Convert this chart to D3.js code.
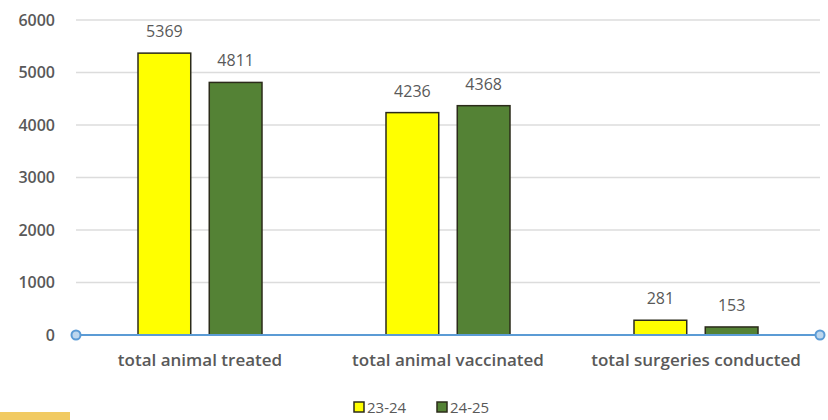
<!DOCTYPE html>
<html>
<head>
<meta charset="utf-8">
<script src="https://cdn.jsdelivr.net/npm/d3@7"></script>
<style>
  html, body { margin: 0; padding: 0; background: #fff; }
  svg { display: block; font-family: "Open Sans", "Noto Sans", sans-serif; }
</style>
</head>
<body>
<svg id="chart" width="828" height="420"></svg>
<script>
// Categories, series and axis ticks
const categories = ["total animal treated", "total animal vaccinated", "total surgeries conducted"];
const seriesNames = ["23-24", "24-25"];
const values2324 = [5369, 4236, 281];
const values2425 = [4811, 4368, 153];
const yTicks = [0, 1000, 2000, 3000, 4000, 5000, 6000];
const seriesColors = ["#ffff00", "#548235"];

const svg = d3.select("#chart");
const plotLeft = 76, plotRight = 820, plotTop = 20, plotBottom = 335;

const x = d3.scaleBand().domain(categories).range([plotLeft, plotRight]).paddingInner(0).paddingOuter(0);
const xs = d3.scaleBand().domain(seriesNames).range([-62, 62]).paddingInner(0.26);
const y = d3.scaleLinear().domain([0, 6000]).range([plotBottom, plotTop]);

// gridlines
svg.append("g")
  .selectAll("line")
  .data(yTicks.filter(d => d > 0))
  .join("line")
  .attr("x1", plotLeft).attr("x2", plotRight)
  .attr("y1", d => y(d)).attr("y2", d => y(d))
  .attr("stroke", "#dcdcdc").attr("stroke-width", 1.5);

// y axis labels
const yAxis = d3.axisLeft(y).tickValues(yTicks).tickFormat(d3.format("d")).tickSize(0).tickPadding(0);
svg.append("g")
  .attr("transform", "translate(55,0)")
  .call(yAxis)
  .call(g => g.select(".domain").remove())
  .call(g => g.selectAll("text")
    .attr("fill", "#595959")
    .attr("font-size", 16)
    .attr("font-weight", 600)
    .attr("font-family", "'Open Sans', sans-serif"));

// bars
const rows = categories.map((c, i) => ({ cat: c, vals: [values2324[i], values2425[i]] }));
const groups = svg.append("g").selectAll("g")
  .data(rows)
  .join("g")
  .attr("transform", d => `translate(${x(d.cat) + x.bandwidth() / 2},0)`);

groups.selectAll("rect")
  .data(d => d.vals.map((v, j) => ({ v, s: seriesNames[j], j })))
  .join("rect")
  .attr("x", d => xs(d.s))
  .attr("width", xs.bandwidth())
  .attr("y", d => y(d.v))
  .attr("height", d => y(0) - y(d.v))
  .attr("fill", d => seriesColors[d.j])
  .attr("stroke", "#2b2b1a")
  .attr("stroke-width", 1.5);

groups.selectAll("text.val")
  .data(d => d.vals.map((v, j) => ({ v, s: seriesNames[j] })))
  .join("text")
  .attr("class", "val")
  .attr("x", d => xs(d.s) + xs.bandwidth() / 2)
  .attr("y", d => y(d.v) - 16)
  .attr("text-anchor", "middle")
  .attr("fill", "#595959")
  .attr("font-size", 16)
  .text(d => d.v);

// baseline axis with end markers
svg.append("line")
  .attr("x1", plotLeft).attr("x2", plotRight)
  .attr("y1", y(0)).attr("y2", y(0))
  .attr("stroke", "#5b9bd5").attr("stroke-width", 2);
svg.selectAll("circle.end")
  .data([plotLeft, plotRight])
  .join("circle")
  .attr("class", "end")
  .attr("cx", d => d).attr("cy", y(0)).attr("r", 4.5)
  .attr("fill", "#bdd7ee").attr("stroke", "#5b9bd5").attr("stroke-width", 2);

// category labels
svg.append("g").selectAll("text")
  .data(categories)
  .join("text")
  .attr("x", d => x(d) + x.bandwidth() / 2)
  .attr("y", 366)
  .attr("text-anchor", "middle")
  .attr("fill", "#595959")
  .attr("font-size", 17)
  .attr("font-weight", 600)
  .text(d => d);

// legend
const legend = svg.append("g").attr("transform", "translate(354,402)");
const legendX = [0, 83];
seriesNames.forEach((name, j) => {
  const g = legend.append("g").attr("transform", `translate(${legendX[j]},0)`);
  g.append("rect").attr("width", 10).attr("height", 10)
    .attr("fill", seriesColors[j]).attr("stroke", "#2b2b1a").attr("stroke-width", 1.5);
  g.append("text").attr("x", 13).attr("y", 11)
    .attr("fill", "#595959").attr("font-size", 15).text(name);
});

// corner strip
svg.append("rect").attr("x", 0).attr("y", 412).attr("width", 70).attr("height", 8).attr("fill", "#f1ca62");
</script>
</body>
</html>
